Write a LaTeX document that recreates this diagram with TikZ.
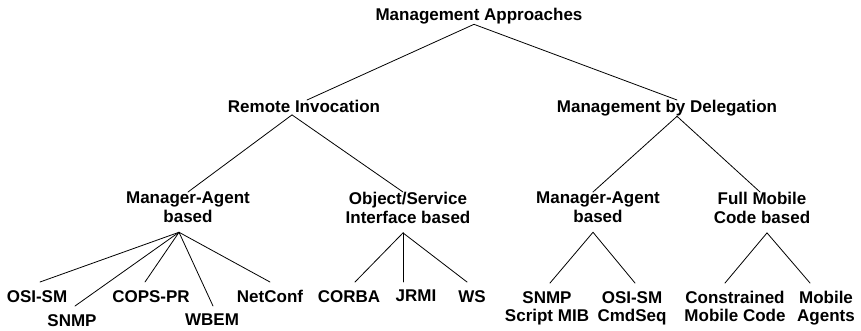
\documentclass[tikz,border=0pt]{standalone}
\usepackage{fontspec}
\setmainfont{Liberation Sans}
\begin{document}
\begin{tikzpicture}[x=1pt,y=-1pt,
  lbl/.style={font=\fontsize{17}{19}\selectfont\bfseries, inner sep=0pt, anchor=north, align=center},
  leaf/.style={lbl, inner ysep=8pt},
  leaftwo/.style={leaf, font=\fontsize{17}{18}\selectfont\bfseries},
  conn/.style={line width=0.8pt, line cap=round}]
\useasboundingbox (0,0) rectangle (861,330);
% internal nodes
\node[lbl] (root) at (479,8) {Management Approaches};
\node[lbl] (ri) at (304,100) {Remote Invocation};
\node[lbl] (md) at (667,100) {Management by Delegation};
\node[lbl] (ma1) at (188,192) {Manager-Agent\\based};
\node[lbl] (os) at (408,192) {Object/Service\\Interface based};
\node[lbl] (ma2) at (598,192) {Manager-Agent\\based};
\node[lbl] (fm) at (762,192) {Full Mobile\\Code based};
% leaves
\node[leaf] (osism) at (37,282) {OSI-SM};
\node[leaf] (snmp) at (72,306) {SNMP};
\node[leaf] (cops) at (151,282) {COPS-PR};
\node[leaf] (wbem) at (212,306) {WBEM};
\node[leaf] (netconf) at (270,282) {NetConf};
\node[leaf] (corba) at (349,282) {CORBA};
\node[leaf] (jrmi) at (416,282) {JRMI};
\node[leaf] (ws) at (472,282) {WS};
\node[leaftwo] (snmpmib) at (547,283) {SNMP\\Script MIB};
\node[leaftwo] (osicmd) at (632,283) {OSI-SM\\CmdSeq};
\node[leaftwo] (cmc) at (735,283) {Constrained\\Mobile Code};
\node[leaftwo] (mag) at (826,283) {Mobile\\Agents};
% connectors
\draw[conn] ([xshift=-5pt]root.south) -- ([xshift=3pt]ri.north);
\draw[conn] ([xshift=-5pt]root.south) -- ([xshift=10pt]md.north);
\draw[conn] ([xshift=-12pt,yshift=-2pt]ri.south) -- (ma1.north);
\draw[conn] ([xshift=-12pt,yshift=-2pt]ri.south) -- ([xshift=-5pt]os.north);
\draw[conn] ([xshift=10pt]md.south) -- ([xshift=-5pt]ma2.north);
\draw[conn] ([xshift=10pt]md.south) -- ([xshift=-2pt]fm.north);
\draw[conn] ([xshift=-9pt,yshift=-9pt]ma1.south) -- ([xshift=3pt]osism.north);
\draw[conn] ([xshift=-9pt,yshift=-9pt]ma1.south) -- ([xshift=3pt]snmp.north);
\draw[conn] ([xshift=-9pt,yshift=-9pt]ma1.south) -- ([xshift=-6pt]cops.north);
\draw[conn] ([xshift=-9pt,yshift=-9pt]ma1.south) -- ([xshift=1pt]wbem.north);
\draw[conn] ([xshift=-9pt,yshift=-9pt]ma1.south) -- (netconf.north);
\draw[conn] ([xshift=-5pt,yshift=-9pt]os.south) -- ([xshift=6pt]corba.north);
\draw[conn] ([xshift=-5pt,yshift=-9pt]os.south) -- ([xshift=-13pt]jrmi.north);
\draw[conn] ([xshift=-5pt,yshift=-9pt]os.south) -- ([xshift=-5pt]ws.north);
\draw[conn] ([xshift=-5pt,yshift=-9pt]ma2.south) -- ([xshift=3pt]snmpmib.north);
\draw[conn] ([xshift=-5pt,yshift=-9pt]ma2.south) -- ([xshift=3pt]osicmd.north);
\draw[conn] ([xshift=5pt,yshift=-9pt]fm.south) -- ([xshift=-10pt]cmc.north);
\draw[conn] ([xshift=5pt,yshift=-9pt]fm.south) -- ([xshift=-16pt]mag.north);
\end{tikzpicture}
\end{document}
